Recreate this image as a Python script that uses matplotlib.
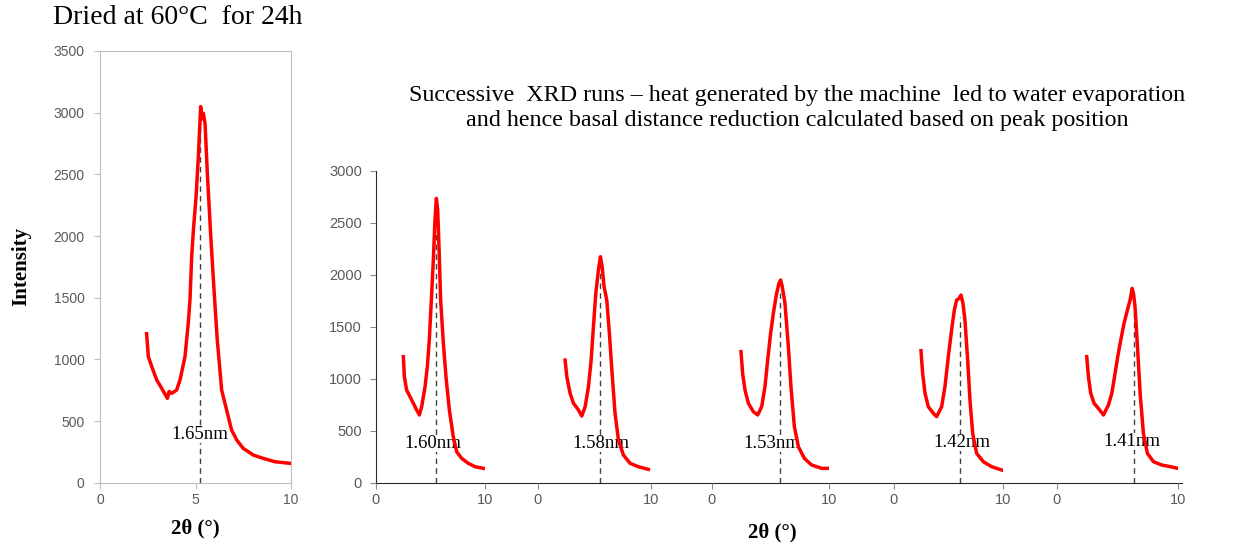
import matplotlib.pyplot as plt

# ---- data ----
# dried sample
dry_x = [2.44, 2.53, 2.71, 2.97, 3.23, 3.53, 3.62, 3.75, 4.01, 4.19, 4.45, 4.62, 4.71, 4.80, 4.89,
         5.03, 5.15, 5.27, 5.35, 5.41, 5.50, 5.62, 5.79, 5.97, 6.14, 6.37, 6.63, 6.89, 7.16, 7.50,
         8.03, 8.55, 9.16, 9.95]
dry_y = [1208, 1022, 941, 833, 765, 684, 740, 724, 751, 833, 1022, 1292, 1481, 1833, 2049,
         2319, 2643, 3049, 2950, 2995, 2914, 2508, 2022, 1562, 1157, 751, 589, 427, 346, 278,
         224, 197, 170, 157]
dry_peak = 5.24
dry_top = 2968
dry_label = '1.65nm'
dry_label_pos = (5.24, 390)

# successive runs
run1_x = [2.51, 2.60, 2.81, 3.12, 3.43, 3.73, 3.98, 4.19, 4.50, 4.71, 4.89, 5.11, 5.26, 5.41, 5.54,
          5.66, 5.78, 5.93, 6.18, 6.42, 6.73, 7.09, 7.40, 7.86, 8.47, 9.08, 9.85]
run1_y = [1212, 1019, 891, 827, 763, 699, 651, 731, 923, 1115, 1372, 1820, 2141, 2526, 2734,
          2622, 2269, 1756, 1340, 1019, 699, 442, 298, 234, 186, 154, 138]

run2_x = [2.44, 2.59, 2.88, 3.18, 3.62, 3.91, 4.21, 4.50, 4.74, 4.94, 5.15, 5.38, 5.56, 5.71,
          5.88, 6.12, 6.35, 6.59, 6.85, 7.15, 7.59, 8.18, 8.91, 9.79]
run2_y = [1179, 1019, 859, 763, 699, 641, 731, 923, 1179, 1500, 1820, 2045, 2173, 2077,
          1885, 1756, 1436, 1051, 667, 410, 266, 186, 154, 128]

run3_x = [2.49, 2.63, 2.83, 3.12, 3.54, 3.91, 4.25, 4.53, 4.76, 5.01, 5.24, 5.52, 5.72, 5.86,
          6.00, 6.23, 6.52, 6.74, 7.03, 7.37, 7.88, 8.50, 9.35, 9.97]
run3_y = [1260, 1051, 891, 763, 683, 651, 731, 923, 1179, 1436, 1628, 1820, 1917, 1949,
          1885, 1724, 1308, 923, 539, 346, 234, 170, 138, 138]

run4_x = [2.47, 2.62, 2.84, 3.14, 3.60, 3.90, 4.36, 4.66, 4.97, 5.27, 5.52, 5.73, 5.95, 6.13,
          6.31, 6.49, 6.74, 6.95, 7.20, 7.56, 8.17, 8.93, 9.85]
run4_y = [1269, 1051, 859, 731, 667, 635, 731, 923, 1212, 1468, 1660, 1756, 1772, 1804,
          1724, 1564, 1179, 795, 474, 282, 202, 154, 122]

run5_x = [2.48, 2.62, 2.81, 3.09, 3.44, 3.86, 4.27, 4.55, 4.82, 5.04, 5.29, 5.56, 5.84, 6.06,
          6.23, 6.34, 6.47, 6.67, 6.89, 7.16, 7.49, 7.99, 8.68, 9.37, 10.0]
run5_y = [1212, 1019, 859, 763, 715, 651, 747, 859, 1051, 1212, 1372, 1532, 1660, 1756,
          1869, 1820, 1692, 1308, 859, 474, 282, 202, 170, 154, 138]

runs_x = [run1_x, run2_x, run3_x, run4_x, run5_x]
runs_y = [run1_y, run2_y, run3_y, run4_y, run5_y]
run_peaks = [5.50, 5.53, 5.80, 6.04, 6.42]
run_tops = [2397, 2045, 1820, 1596, 1692]
run_labels = ['1.60nm', '1.58nm', '1.53nm', '1.42nm', '1.41nm']
run_label_x = [5.20, 5.62, 5.15, 6.19, 6.20]
run_label_y = [378, 378, 378, 385, 400]

title_left = 'Dried at 60\u00b0C  for 24h'
title_right = ('Successive  XRD runs \u2013 heat generated by the machine  led to water evaporation\n'
               'and hence basal distance reduction calculated based on peak position')

# ---- figure ----
W, H = 1233, 546
fig = plt.figure(figsize=(W / 100, H / 100), dpi=100)
serif = 'Liberation Serif'
sans = 'Liberation Sans'
grey = '#595959'
red = '#ff0000'


def box(x0, x1, ytop, ybot=482.7):
    return [x0 / W, 1 - ybot / H, (x1 - x0) / W, (ybot - ytop) / H]


# left panel
ax = fig.add_axes(box(100, 291, 51))
ax.plot(dry_x, dry_y, color=red, lw=2.5, zorder=4)
ax.plot([dry_peak, dry_peak], [0, dry_top], color='#404040', lw=1, ls=(0, (4, 3)), zorder=2)
ax.text(dry_label_pos[0], dry_label_pos[1], dry_label, ha='center', va='center',
        family=serif, fontsize=13.5, zorder=3,
        bbox=dict(facecolor='white', edgecolor='none', pad=0))
ax.set_xlim(0, 10)
ax.set_ylim(0, 3500)
ax.set_xticks([0, 5, 10])
ax.set_yticks(range(0, 3501, 500))
for s in ax.spines.values():
    s.set_color('#bfbfbf')
ax.tick_params(colors='#bfbfbf', labelcolor=grey, labelsize=10, length=4,
               labelfontfamily=sans)
ax.tick_params(axis='y', pad=7)
ax.set_xlabel('2\u03b8 (\u00b0)', family=serif, fontweight='bold', fontsize=15, labelpad=8)
ax.set_ylabel('Intensity', family=serif, fontweight='bold', fontsize=15, labelpad=16)
fig.text(178 / W, 1 - 18 / H, title_left, ha='center', va='center', family=serif, fontsize=20)

# right block: shared y axis and continuous baseline
axr = fig.add_axes(box(376, 1181.7, 170.7))
axr.set_ylim(0, 3000)
axr.set_xlim(0, 1)
axr.set_xticks([])
axr.set_yticks(range(0, 3001, 500))
axr.spines['top'].set_visible(False)
axr.spines['right'].set_visible(False)
axr.spines['left'].set_color('#262626')
axr.spines['bottom'].set_color('#262626')
axr.tick_params(axis='y', colors='#8c8c8c', labelcolor=grey, labelsize=10.5, length=4,
                pad=6, labelfontfamily=sans)
axr.patch.set_alpha(0)

panel_edges = [(376, 485), (537.5, 650.7), (711.7, 829.3), (894, 1003.3), (1056.7, 1177.8)]
for i, (x0, x1) in enumerate(panel_edges):
    a = fig.add_axes(box(x0, x1, 170.7))
    a.patch.set_alpha(0)
    a.plot(runs_x[i], runs_y[i], color=red, lw=2.5, zorder=4)
    a.plot([run_peaks[i], run_peaks[i]], [0, run_tops[i]], color='#404040', lw=1,
           ls=(0, (4, 3)), zorder=2)
    a.text(run_label_x[i], run_label_y[i], run_labels[i], ha='center', va='center',
           family=serif, fontsize=13.5, zorder=3,
           bbox=dict(facecolor='white', edgecolor='none', pad=0))
    a.set_xlim(0, 10)
    a.set_ylim(0, 3000)
    a.set_yticks([])
    a.set_xticks([0, 10])
    for s in a.spines.values():
        s.set_visible(False)
    a.tick_params(axis='x', colors='#8c8c8c', labelcolor=grey, labelsize=10.5, length=4,
                  labelfontfamily=sans)

fig.text(772 / W, 1 - 532 / H, '2\u03b8 (\u00b0)', ha='center', va='center', family=serif,
         fontweight='bold', fontsize=15)
fig.text(797 / W, 1 - 108 / H, title_right, ha='center', va='center', family=serif,
         fontsize=17.3, linespacing=1.2)

fig.savefig('out.png', dpi=100)
